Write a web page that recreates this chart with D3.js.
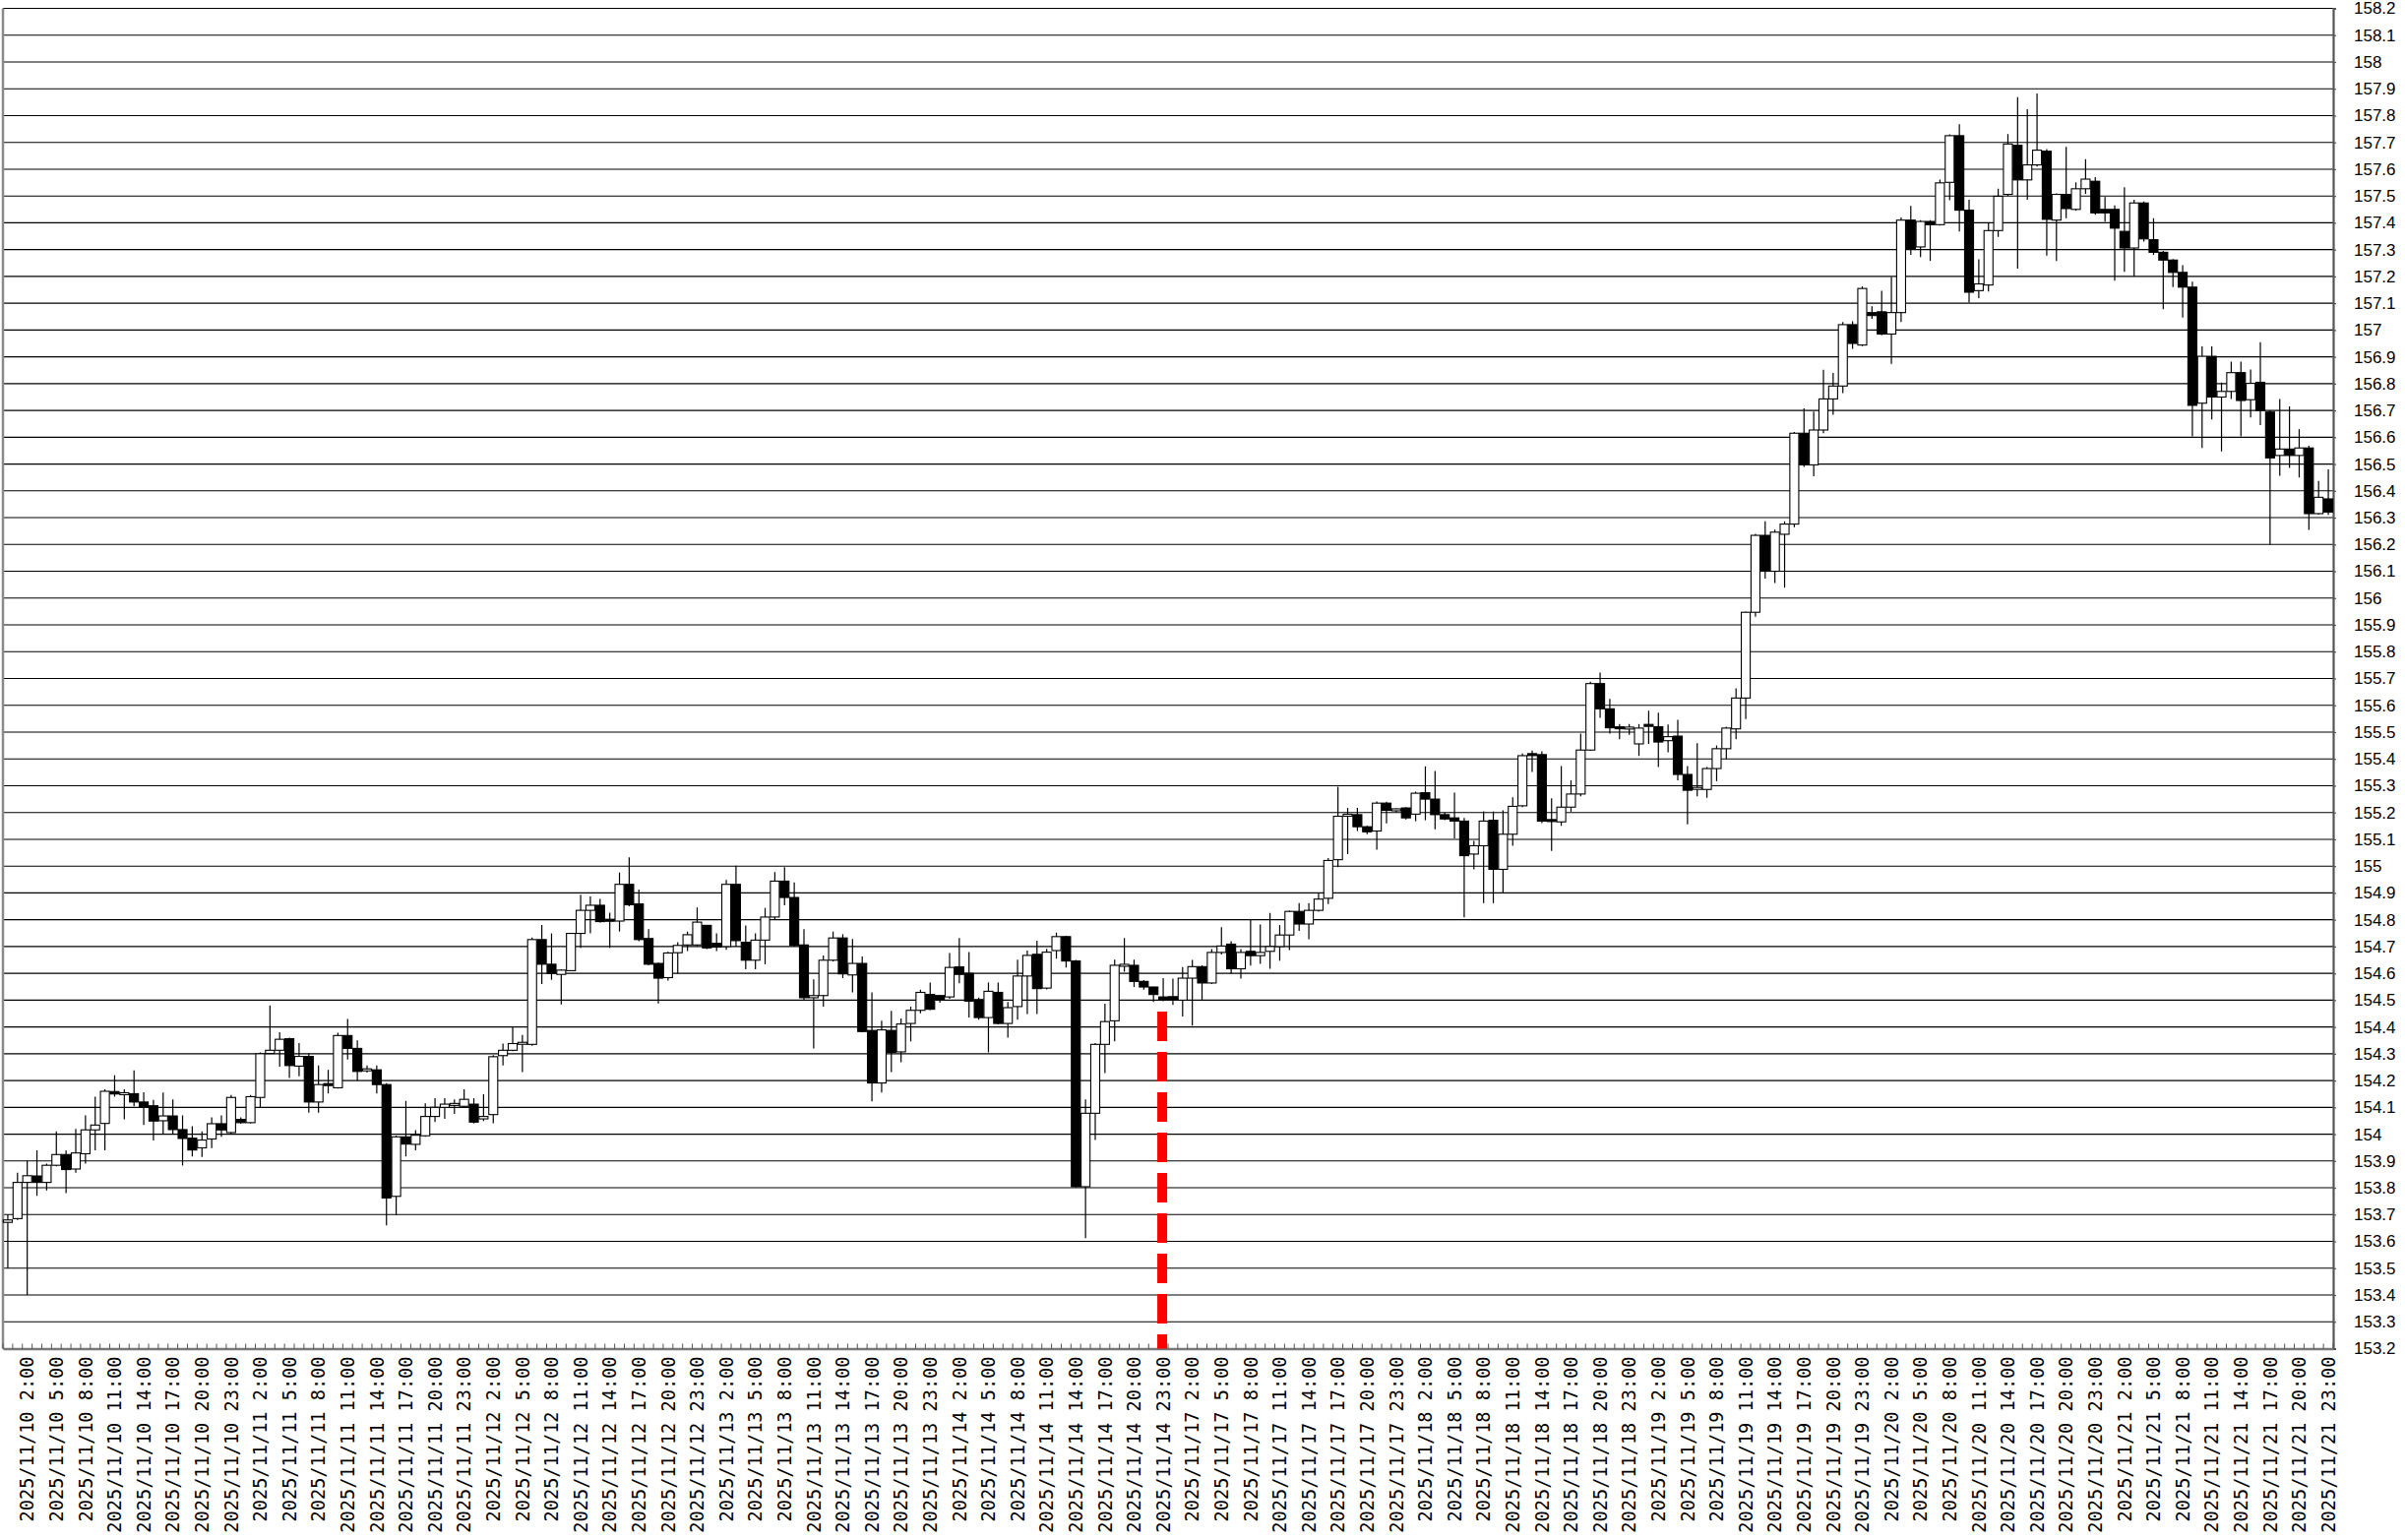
<!DOCTYPE html>
<html><head><meta charset="utf-8">
<script src="https://cdn.jsdelivr.net/npm/d3@7"></script>
<style>html,body{margin:0;padding:0;background:#fff;} svg{display:block;}</style>
</head><body>
<svg id="chart" width="2444" height="1565"></svg>
<script>
// ---- categories ----
const days = ["2025/11/10","2025/11/11","2025/11/12","2025/11/13","2025/11/14",
              "2025/11/17","2025/11/18","2025/11/19","2025/11/20","2025/11/21"];
const hoursOfDay = [0,1,2,3,4,5,6,7,8,9,10,11,12,13,14,15,16,17,18,19,20,21,22,23];
const labelEvery = 3, labelStart = 2;

// ---- series values (hourly OHLC) ----
const openV = [
153.671,153.685,153.82,153.844,153.82,153.884,153.924,153.87,153.927,154.016,
154.04,154.159,154.149,154.151,154.12,154.106,154.05,154.068,154.017,153.985,
153.949,153.982,154.039,154.006,154.055,154.043,154.137,154.301,154.313,154.356,
154.254,154.29,154.12,154.185,154.173,154.368,154.32,154.234,154.24,154.185,
153.768,153.99,153.962,153.994,154.066,154.10,154.106,154.104,154.112,154.057,
154.073,154.293,154.313,154.338,154.335,154.726,154.634,154.596,154.61,154.749,
154.835,154.854,154.798,154.795,154.932,154.859,154.73,154.637,154.584,154.677,
154.706,154.706,154.779,154.712,154.70,154.932,154.716,154.649,154.724,154.81,
154.944,154.883,154.706,154.509,154.517,154.649,154.732,154.594,154.637,154.387,
154.191,154.387,154.307,154.413,154.462,154.521,154.517,154.512,154.624,154.60,
154.502,154.435,154.529,154.413,154.476,154.59,154.671,154.545,154.685,154.737,
154.646,153.804,154.078,154.335,154.423,154.627,154.63,154.57,154.549,154.512,
154.513,154.50,154.582,154.625,154.564,154.678,154.709,154.617,154.682,154.666,
154.682,154.70,154.743,154.831,154.784,154.835,154.88,155.024,155.183,155.192,
155.147,155.131,155.235,155.204,155.217,155.194,155.274,155.25,155.192,155.18,
155.168,155.045,155.076,155.171,154.988,155.119,155.225,155.416,155.416,155.17,
155.165,155.22,155.269,155.433,155.681,155.587,155.516,155.51,155.456,155.525,
155.52,155.468,155.485,155.342,155.283,155.286,155.364,155.438,155.512,155.627,
155.947,156.234,156.10,156.238,156.276,156.615,156.497,156.627,156.743,156.791,
157.02,156.944,157.065,157.068,156.985,157.065,157.41,157.31,157.405,157.393,
157.551,157.725,157.447,157.147,157.168,157.371,157.506,157.689,157.56,157.616,
157.667,157.41,157.506,157.45,157.527,157.555,157.45,157.45,157.368,157.306,
157.474,157.337,157.29,157.261,157.215,157.16,156.727,156.902,156.75,156.771,
156.841,156.74,156.805,156.694,156.532,156.556,156.532,156.56,156.315,156.37];
const highV = [
153.70,153.856,153.90,153.94,153.89,154.01,153.94,154.02,154.07,154.14,
154.167,154.22,154.167,154.238,154.156,154.128,154.155,154.13,154.07,154.03,
154.01,154.063,154.07,154.146,154.063,154.146,154.305,154.48,154.38,154.36,
154.34,154.30,154.256,154.24,154.378,154.43,154.35,154.256,154.256,154.19,
153.995,154.124,154.015,154.115,154.134,154.134,154.13,154.167,154.134,154.149,
154.295,154.338,154.402,154.37,154.734,154.78,154.749,154.615,154.75,154.893,
154.887,154.878,154.826,154.976,155.033,154.913,154.765,154.64,154.68,154.716,
154.756,154.846,154.78,154.749,154.948,155.002,154.779,154.749,154.844,154.978,
154.996,154.939,154.765,154.578,154.667,154.756,154.746,154.728,154.663,154.529,
154.423,154.46,154.432,154.476,154.539,154.566,154.52,154.676,154.732,154.679,
154.51,154.566,154.566,154.493,154.651,154.685,154.722,154.691,154.752,154.74,
154.65,154.13,154.34,154.487,154.651,154.732,154.651,154.575,154.55,154.582,
154.58,154.623,154.65,154.63,154.69,154.772,154.72,154.69,154.80,154.782,
154.825,154.78,154.835,154.862,154.862,154.898,155.03,155.296,155.217,155.217,
155.15,155.241,155.24,155.215,155.22,155.278,155.372,155.355,155.20,155.274,
155.18,155.094,155.204,155.204,155.208,155.257,155.42,155.431,155.428,155.253,
155.373,155.32,155.494,155.688,155.722,155.624,155.53,155.53,155.53,155.58,
155.572,155.528,155.546,155.373,155.459,155.37,155.45,155.52,155.663,155.95,
156.24,156.286,156.255,156.286,156.62,156.708,156.696,156.852,156.84,157.03,
157.033,157.163,157.089,157.146,157.198,157.42,157.463,157.41,157.41,157.561,
157.73,157.768,157.486,157.264,157.40,157.527,157.731,157.869,157.824,157.882,
157.675,157.51,157.683,157.551,157.637,157.57,157.496,157.465,157.533,157.486,
157.48,157.417,157.295,157.265,157.242,157.18,156.939,156.939,156.804,156.882,
156.882,156.853,156.955,156.70,156.743,156.715,156.63,156.568,156.437,156.48];
const lowV = [
153.50,153.68,153.40,153.77,153.79,153.88,153.78,153.856,153.89,153.94,
153.94,154.14,154.055,154.104,154.034,153.976,153.998,154.00,153.883,153.917,
153.915,153.948,153.99,154.00,154.039,154.04,154.098,154.30,154.252,154.21,
154.216,154.08,154.08,154.152,154.17,154.278,154.20,154.23,154.152,153.66,
153.698,153.917,153.94,153.99,154.045,154.057,154.076,154.10,154.04,154.049,
154.041,154.256,154.31,154.232,154.33,154.56,154.576,154.484,154.61,154.695,
154.749,154.79,154.695,154.756,154.85,154.72,154.63,154.488,154.573,154.60,
154.683,154.70,154.69,154.683,154.688,154.70,154.615,154.615,154.634,154.80,
154.854,154.70,154.50,154.32,154.476,154.645,154.582,154.529,154.38,154.122,
154.155,154.232,154.268,154.346,154.451,154.463,154.49,154.505,154.563,154.435,
154.427,154.305,154.41,154.36,154.427,154.448,154.448,154.54,154.655,154.622,
153.80,153.612,153.978,154.228,154.346,154.606,154.549,154.539,154.493,154.496,
154.482,154.439,154.405,154.50,154.56,154.67,154.598,154.58,154.629,154.635,
154.617,154.647,154.687,154.758,154.727,154.83,154.858,154.996,155.045,155.131,
155.119,155.061,155.159,155.20,155.174,155.168,155.171,155.137,155.171,155.103,
154.809,154.988,154.862,154.862,154.902,155.076,155.22,155.351,155.16,155.057,
155.15,155.203,155.26,155.43,155.553,155.494,155.473,155.49,155.411,155.456,
155.37,155.425,155.32,155.156,155.26,155.255,155.317,155.40,155.473,155.549,
155.93,156.073,156.056,156.039,156.264,156.489,156.454,156.615,156.684,156.765,
156.93,156.94,157.042,156.98,156.874,157.03,157.28,157.272,157.258,157.39,
157.484,157.368,157.102,157.119,157.144,157.347,157.50,157.229,157.486,157.61,
157.278,157.257,157.417,157.445,157.508,157.43,157.404,157.184,157.217,157.20,
157.33,157.28,157.078,157.16,157.046,156.603,156.56,156.666,156.547,156.743,
156.603,156.674,156.645,156.20,156.456,156.486,156.45,156.254,156.311,156.31];
const closeV = [
153.68,153.82,153.845,153.82,153.884,153.924,153.868,153.93,154.016,154.034,
154.16,154.15,154.151,154.12,154.10,154.049,154.068,154.017,153.984,153.941,
153.978,154.039,154.016,154.137,154.043,154.14,154.30,154.313,154.354,154.256,
154.29,154.12,154.185,154.179,154.368,154.32,154.234,154.24,154.185,153.762,
153.99,153.963,153.996,154.066,154.10,154.112,154.111,154.13,154.045,154.066,
154.289,154.313,154.338,154.339,154.726,154.634,154.60,154.612,154.749,154.835,
154.854,154.793,154.793,154.932,154.856,154.726,154.634,154.582,154.676,154.704,
154.744,154.791,154.695,154.698,154.932,154.722,154.649,154.724,154.81,154.944,
154.883,154.704,154.509,154.517,154.649,154.732,154.598,154.637,154.383,154.191,
154.389,154.305,154.411,154.462,154.529,154.466,154.50,154.622,154.596,154.496,
154.435,154.533,154.413,154.472,154.59,154.667,154.543,154.679,154.737,154.646,
153.804,154.078,154.335,154.42,154.63,154.63,154.57,154.549,154.521,154.502,
154.50,154.582,154.625,154.564,154.678,154.702,154.617,154.678,154.666,154.678,
154.70,154.743,154.831,154.784,154.835,154.877,155.021,155.186,155.19,155.147,
155.128,155.235,155.208,155.21,155.18,155.272,155.25,155.192,155.176,155.168,
155.039,155.076,155.168,154.988,155.119,155.223,155.412,155.412,155.168,155.165,
155.22,155.269,155.433,155.681,155.587,155.516,155.513,155.515,155.515,155.522,
155.463,155.483,155.342,155.283,155.29,155.364,155.438,155.515,155.627,155.947,
156.234,156.10,156.246,156.276,156.615,156.497,156.627,156.743,156.791,157.02,
156.95,157.155,157.054,156.985,157.065,157.41,157.302,157.405,157.393,157.549,
157.725,157.447,157.141,157.172,157.371,157.499,157.694,157.56,157.616,157.671,
157.413,157.506,157.453,157.527,157.563,157.437,157.437,157.38,157.306,157.474,
157.34,157.29,157.261,157.215,157.16,156.719,156.902,156.75,156.771,156.841,
156.737,156.801,156.70,156.523,156.556,156.532,156.56,156.315,156.376,156.321];

// ---- axis settings ----
const yMin = 153.2, yMax = 158.2, yStep = 0.1;
const markerIndex = 119;      // 2025/11/14 23:00
const markerTop = 154.457;

// ---- layout ----
const plot = {left: 3, right: 2371, top: 8.5, bottom: 1370.5};
const svg = d3.select("#chart");
const categories = days.flatMap(d => hoursOfDay.map(h => `${d} ${h}:00`));
const idx = d3.range(categories.length);

const x = d3.scaleBand().domain(idx).range([plot.left, plot.right]).padding(0);
const bw = x.bandwidth();
const y = d3.scaleLinear().domain([yMin, yMax]).range([plot.bottom, plot.top]);

const yTicks = d3.range(0, Math.round((yMax - yMin) / yStep) + 1).map(k => +(yMin + k * yStep).toFixed(1));

// gridlines
svg.append("g").selectAll("line").data(yTicks).join("line")
  .attr("x1", plot.left).attr("x2", plot.right)
  .attr("y1", d => y(d)).attr("y2", d => y(d))
  .attr("stroke", "#000").attr("stroke-width", 1.1);

// right axis
const yAxis = d3.axisRight(y).tickValues(yTicks).tickSize(3).tickPadding(18)
  .tickFormat(d => String(+d.toFixed(1)));
const ya = svg.append("g").attr("transform", `translate(${plot.right},0)`).call(yAxis);
ya.select(".domain").attr("stroke", "#555").attr("stroke-width", 2.2);
ya.selectAll(".tick line").attr("stroke", "#555").attr("stroke-width", 1.2);
ya.selectAll(".tick text").attr("font-family", "'Liberation Sans', Arial, sans-serif")
  .attr("font-size", 17).attr("fill", "#000");

// left frame
svg.append("line").attr("x1", plot.left).attr("x2", plot.left)
  .attr("y1", plot.top).attr("y2", plot.bottom)
  .attr("stroke", "#8a8a8a").attr("stroke-width", 2.5);

// bottom axis with rotated labels
const labelIdx = idx.filter(i => i >= labelStart && (i - labelStart) % labelEvery === 0);
const xAxis = d3.axisBottom(x).tickValues(labelIdx).tickSize(0).tickPadding(0)
  .tickFormat(i => categories[i]);
const xa = svg.append("g").attr("transform", `translate(0,${plot.bottom})`).call(xAxis);
xa.select(".domain").attr("stroke", "#777").attr("stroke-width", 2.5);
xa.selectAll(".tick text")
  .attr("font-family", "'DejaVu Sans Mono', monospace").attr("font-size", 18.6).attr("fill", "#000")
  .attr("text-anchor", "end").attr("transform", "translate(0,8) rotate(-90)")
  .attr("x", 0).attr("y", 0).attr("dy", "0.36em");

// minor ticks at band boundaries
svg.append("g").selectAll("line").data(d3.range(categories.length + 1)).join("line")
  .attr("x1", i => plot.left + i * bw).attr("x2", i => plot.left + i * bw)
  .attr("y1", plot.bottom - 5).attr("y2", plot.bottom)
  .attr("stroke", "#555").attr("stroke-width", 1);

// candles
const cg = svg.append("g");
cg.selectAll("line.wick").data(idx).join("line").attr("class", "wick")
  .attr("x1", i => x(i) + bw / 2).attr("x2", i => x(i) + bw / 2)
  .attr("y1", i => y(highV[i])).attr("y2", i => y(lowV[i]))
  .attr("stroke", "#000").attr("stroke-width", 1.2);
const bodyW = bw - 0.8;
cg.selectAll("rect.body").data(idx).join("rect").attr("class", "body")
  .attr("x", i => x(i) + (bw - bodyW) / 2)
  .attr("width", bodyW)
  .attr("y", i => Math.min(y(openV[i]), y(closeV[i])) - (Math.abs(y(openV[i]) - y(closeV[i])) < 2 ? 1 : 0))
  .attr("height", i => Math.max(2, Math.abs(y(openV[i]) - y(closeV[i]))))
  .attr("fill", i => closeV[i] >= openV[i] ? "#fff" : "#000")
  .attr("stroke", "#000").attr("stroke-width", 1.1);

// red dashed marker
svg.append("line")
  .attr("x1", x(markerIndex) + bw / 2 - 1).attr("x2", x(markerIndex) + bw / 2 - 1)
  .attr("y1", y(markerTop)).attr("y2", plot.bottom)
  .attr("stroke", "#ff0000").attr("stroke-width", 10)
  .attr("stroke-dasharray", "30,11");
</script>
</body></html>
